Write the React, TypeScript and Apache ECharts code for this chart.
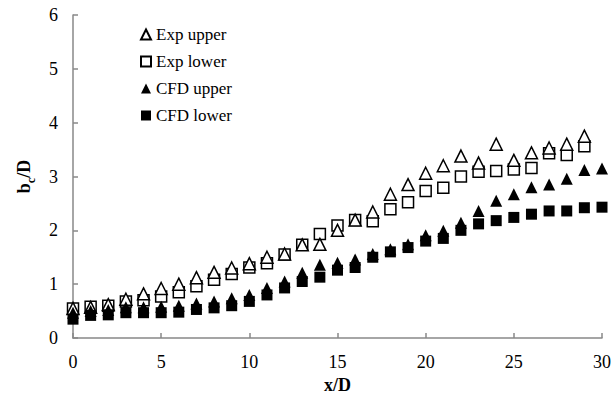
import React, { useEffect, useRef } from "react";
import * as echarts from "echarts";

const xExp = [0,1,2,3,4,5,6,7,8,9,10,11,12,13,14,15,16,17,18,19,20,21,22,23,24,25,26,27,28,29];
const expUpper = [0.55,0.57,0.62,0.72,0.82,0.92,1.0,1.12,1.22,1.3,1.38,1.5,1.56,1.73,1.74,2.0,2.19,2.34,2.67,2.85,3.06,3.2,3.38,3.25,3.6,3.3,3.44,3.53,3.6,3.75];
const expLower = [0.55,0.58,0.6,0.68,0.7,0.77,0.85,0.96,1.08,1.19,1.31,1.39,1.55,1.73,1.93,2.09,2.19,2.17,2.39,2.52,2.73,2.79,3.0,3.09,3.1,3.13,3.16,3.43,3.4,3.56];
const xCfd = [0,1,2,3,4,5,6,7,8,9,10,11,12,13,14,15,16,17,18,19,20,21,22,23,24,25,26,27,28,29,30];
const cfdUpper = [0.47,0.5,0.52,0.57,0.57,0.58,0.6,0.64,0.68,0.74,0.8,0.93,1.05,1.21,1.36,1.4,1.46,1.56,1.65,1.74,1.91,1.99,2.14,2.36,2.55,2.67,2.8,2.85,2.96,3.12,3.15];
const cfdLower = [0.35,0.42,0.43,0.47,0.47,0.47,0.48,0.53,0.56,0.6,0.68,0.8,0.93,1.05,1.13,1.26,1.31,1.5,1.6,1.68,1.8,1.85,2.0,2.12,2.18,2.24,2.3,2.36,2.36,2.42,2.43];
const legendNames = ["Exp upper", "Exp lower", "CFD upper", "CFD lower"];

const FONT = "'Liberation Serif', 'Times New Roman', serif";

const pairs = (xs: number[], ys: number[]) => xs.map((x, i) => [x, ys[i]]);

export default function App() {
  const ref = useRef<HTMLDivElement>(null);
  useEffect(() => {
    if (!ref.current) return;
    const chart = echarts.init(ref.current, undefined, { renderer: "svg" });
    const openStyle = { color: "#ffffff", borderColor: "#000000", borderWidth: 1.5, opacity: 1 };
    const solidStyle = { color: "#000000", opacity: 1 };
    const labelStyle = { fontFamily: FONT, fontSize: 18, color: "#000" };
    chart.setOption({
      animation: false,
      textStyle: { fontFamily: FONT },
      grid: { left: 73, right: 11, top: 15, bottom: 63 },
      legend: {
        data: legendNames,
        orient: "vertical",
        left: 135,
        top: 21,
        itemWidth: 10,
        itemHeight: 10,
        itemGap: 10,
        textStyle: { fontFamily: FONT, fontSize: 17, color: "#000", lineHeight: 17 },
      },
      xAxis: {
        type: "value",
        min: 0,
        max: 30,
        interval: 5,
        name: "x/D",
        nameLocation: "middle",
        nameGap: 36,
        nameTextStyle: { fontFamily: FONT, fontSize: 18, fontWeight: "bold", color: "#000" },
        axisLine: { lineStyle: { color: "#888", width: 1.5 } },
        axisTick: { inside: true, length: 5, lineStyle: { color: "#888", width: 1.5 } },
        axisLabel: { ...labelStyle, margin: 15 },
        splitLine: { show: false },
      },
      yAxis: {
        type: "value",
        min: 0,
        max: 6,
        interval: 1,
        name: "{b|b}{s|c}{b|/D}",
        nameLocation: "middle",
        nameGap: 36,
        nameTextStyle: {
          fontFamily: FONT,
          fontSize: 18,
          fontWeight: "bold",
          color: "#000",
          rich: {
            b: { fontFamily: FONT, fontSize: 18, fontWeight: "bold", color: "#000", lineHeight: 22, verticalAlign: "top" },
            s: { fontFamily: FONT, fontSize: 12, fontWeight: "bold", color: "#000", lineHeight: 22, verticalAlign: "bottom", padding: [8, 0, 0, 0] },
          },
        },
        axisLine: { show: true, lineStyle: { color: "#888", width: 1.5 } },
        axisTick: { show: true, inside: true, length: 5, lineStyle: { color: "#888", width: 1.5 } },
        axisLabel: { ...labelStyle, margin: 15 },
        splitLine: { show: false },
      },
      series: [
        { name: "Exp lower", type: "scatter", symbol: "rect", symbolSize: 11, itemStyle: openStyle, data: pairs(xExp, expLower), z: 2 },
        { name: "Exp upper", type: "scatter", symbol: "triangle", symbolSize: 12, itemStyle: openStyle, data: pairs(xExp, expUpper), z: 3 },
        { name: "CFD lower", type: "scatter", symbol: "rect", symbolSize: 11, itemStyle: solidStyle, data: pairs(xCfd, cfdLower), z: 4 },
        { name: "CFD upper", type: "scatter", symbol: "triangle", symbolSize: 12, itemStyle: solidStyle, data: pairs(xCfd, cfdUpper), z: 5 },
      ],
    });
    return () => chart.dispose();
  }, []);
  return <div ref={ref} style={{ width: 614, height: 401, position: "absolute", left: 0, top: 0 }} />;
}
